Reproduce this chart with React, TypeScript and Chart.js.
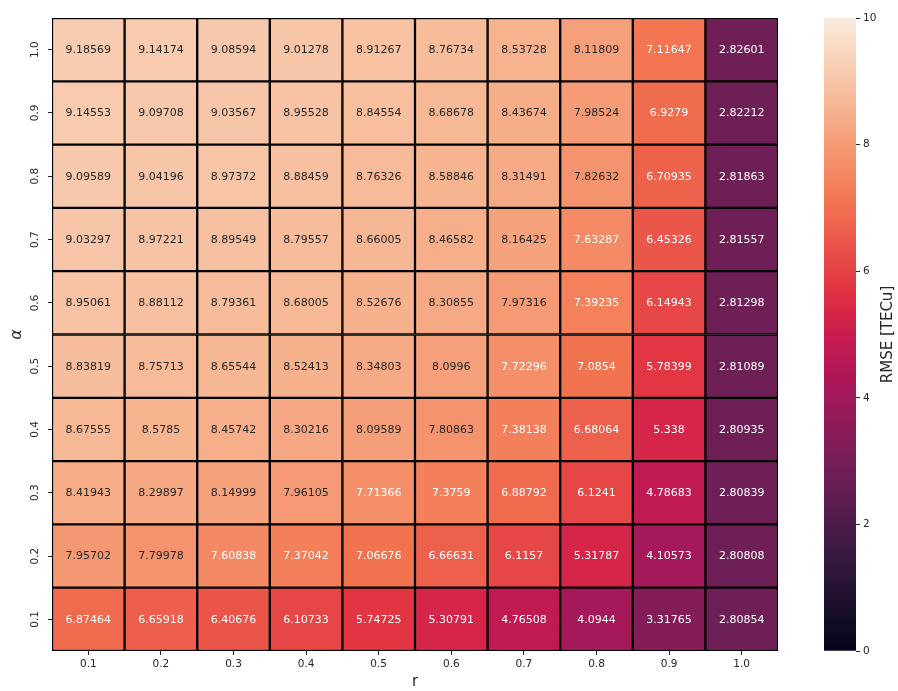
import React, { useEffect, useRef } from "react";
import { Chart, registerables } from "chart.js";

Chart.register(...registerables);

// r (x axis) categories
const rLabels = ["0.1", "0.2", "0.3", "0.4", "0.5", "0.6", "0.7", "0.8", "0.9", "1.0"];
// alpha (y axis) categories, bottom to top
const alphaLabels = ["0.1", "0.2", "0.3", "0.4", "0.5", "0.6", "0.7", "0.8", "0.9", "1.0"];

// RMSE values per alpha row, across r = 0.1 .. 1.0
const rmseAlpha01 = [6.87464, 6.65918, 6.40676, 6.10733, 5.74725, 5.30791, 4.76508, 4.0944, 3.31765, 2.80854];
const rmseAlpha02 = [7.95702, 7.79978, 7.60838, 7.37042, 7.06676, 6.66631, 6.1157, 5.31787, 4.10573, 2.80808];
const rmseAlpha03 = [8.41943, 8.29897, 8.14999, 7.96105, 7.71366, 7.3759, 6.88792, 6.1241, 4.78683, 2.80839];
const rmseAlpha04 = [8.67555, 8.5785, 8.45742, 8.30216, 8.09589, 7.80863, 7.38138, 6.68064, 5.338, 2.80935];
const rmseAlpha05 = [8.83819, 8.75713, 8.65544, 8.52413, 8.34803, 8.0996, 7.72296, 7.0854, 5.78399, 2.81089];
const rmseAlpha06 = [8.95061, 8.88112, 8.79361, 8.68005, 8.52676, 8.30855, 7.97316, 7.39235, 6.14943, 2.81298];
const rmseAlpha07 = [9.03297, 8.97221, 8.89549, 8.79557, 8.66005, 8.46582, 8.16425, 7.63287, 6.45326, 2.81557];
const rmseAlpha08 = [9.09589, 9.04196, 8.97372, 8.88459, 8.76326, 8.58846, 8.31491, 7.82632, 6.70935, 2.81863];
const rmseAlpha09 = [9.14553, 9.09708, 9.03567, 8.95528, 8.84554, 8.68678, 8.43674, 7.98524, 6.9279, 2.82212];
const rmseAlpha10 = [9.18569, 9.14174, 9.08594, 9.01278, 8.91267, 8.76734, 8.53728, 8.11809, 7.11647, 2.82601];

const rows = [
  rmseAlpha01, rmseAlpha02, rmseAlpha03, rmseAlpha04, rmseAlpha05,
  rmseAlpha06, rmseAlpha07, rmseAlpha08, rmseAlpha09, rmseAlpha10,
];

const vMin = 0;
const vMax = 10;

// approximate seaborn "rocket" colormap anchors
const rocketStops: [number, number, number, number][] = [
  [0.0, 3, 5, 26],
  [0.143, 53, 25, 62],
  [0.286, 112, 31, 87],
  [0.429, 173, 23, 89],
  [0.5, 203, 27, 79],
  [0.571, 225, 51, 66],
  [0.714, 243, 118, 81],
  [0.857, 246, 180, 143],
  [1.0, 250, 235, 221],
];

function rocketRGB(t: number): [number, number, number] {
  const x = Math.max(0, Math.min(1, t));
  for (let i = 1; i < rocketStops.length; i++) {
    const a = rocketStops[i - 1];
    const b = rocketStops[i];
    if (x <= b[0]) {
      const f = (x - a[0]) / (b[0] - a[0]);
      return [a[1] + (b[1] - a[1]) * f, a[2] + (b[2] - a[2]) * f, a[3] + (b[3] - a[3]) * f];
    }
  }
  const l = rocketStops[rocketStops.length - 1];
  return [l[1], l[2], l[3]];
}

function rgbStr(c: [number, number, number]) {
  return `rgb(${Math.round(c[0])},${Math.round(c[1])},${Math.round(c[2])})`;
}

function colorFor(v: number) {
  return rgbStr(rocketRGB((v - vMin) / (vMax - vMin)));
}

function luminance(c: [number, number, number]) {
  const lin = (u: number) => {
    const s = u / 255;
    return s <= 0.03928 ? s / 12.92 : Math.pow((s + 0.055) / 1.055, 2.4);
  };
  return 0.2126 * lin(c[0]) + 0.7152 * lin(c[1]) + 0.0722 * lin(c[2]);
}

function textColorFor(v: number) {
  const c = rocketRGB((v - vMin) / (vMax - vMin));
  return luminance(c) > 0.408 ? "#262626" : "#ffffff";
}

const FONT = "DejaVu Sans";
const TXT = "#262626";

export default function App() {
  const mainRef = useRef<HTMLCanvasElement | null>(null);
  const cbRef = useRef<HTMLCanvasElement | null>(null);

  useEffect(() => {
    if (!mainRef.current || !cbRef.current) return;

    const annotate = {
      id: "annotate",
      afterDatasetsDraw(chart: any) {
        const ctx = chart.ctx;
        ctx.save();
        ctx.font = `11px "${FONT}"`;
        ctx.textAlign = "center";
        ctx.textBaseline = "middle";
        chart.data.datasets.forEach((_: any, i: number) => {
          const meta = chart.getDatasetMeta(i);
          meta.data.forEach((bar: any, c: number) => {
            const v = rows[i][c];
            const p = bar.getProps(["x", "y", "base"], true);
            ctx.fillStyle = textColorFor(v);
            ctx.fillText(String(v), p.x, (p.y + p.base) / 2 + 0.5);
          });
        });
        ctx.restore();
      },
    };

    const main = new Chart(mainRef.current, {
      type: "bar",
      data: {
        labels: rLabels,
        datasets: rows.map((vals, i) => ({
          data: vals.map(() => [i, i + 1]),
          backgroundColor: vals.map((v) => colorFor(v)),
          borderColor: "#000000",
          borderWidth: 1.5,
          borderSkipped: false,
          barPercentage: 1,
          categoryPercentage: 1,
          grouped: false,
        })) as any,
      },
      options: {
        responsive: false,
        animation: false,
        layout: { padding: { top: 18, right: 22, left: 0, bottom: 0 } },
        plugins: { legend: { display: false }, tooltip: { enabled: false } },
        scales: {
          x: {
            type: "category",
            offset: true,
            grid: { offset: false, drawOnChartArea: false, tickLength: 4, color: TXT },
            border: { display: false },
            ticks: { color: TXT, font: { family: FONT, size: 10.5 }, padding: 3, maxRotation: 0, minRotation: 0 },
            title: { display: true, text: "r", color: TXT, font: { family: FONT, size: 15 }, padding: { top: 0, bottom: 0 } },
            afterFit: (s: any) => { s.height = 40; },
          },
          y: {
            type: "linear",
            min: 0,
            max: 10,
            afterBuildTicks: (s: any) => {
              s.ticks = alphaLabels.map((_, i) => ({ value: i + 0.5 }));
            },
            grid: { drawOnChartArea: false, tickLength: 4, color: TXT },
            border: { display: false },
            ticks: {
              color: TXT,
              font: { family: FONT, size: 10.5 },
              padding: 4,
              minRotation: 90,
              maxRotation: 90,
              crossAlign: "center",
              autoSkip: false,
              callback: (v: any) => alphaLabels[Math.round(Number(v) - 0.5)],
            },
            title: { display: true, text: "α", color: TXT, font: { family: FONT, size: 16, style: "italic" }, padding: { top: 7, bottom: 0 } },
            afterFit: (s: any) => { s.width = 52; },
          },
        },
      } as any,
      plugins: [annotate],
    });

    const cbTitle = {
      id: "cbTitle",
      afterDraw(chart: any) {
        const ctx = chart.ctx;
        const a = chart.chartArea;
        ctx.save();
        ctx.translate(88, (a.top + a.bottom) / 2);
        ctx.rotate(-Math.PI / 2);
        ctx.font = `15px "${FONT}"`;
        ctx.fillStyle = TXT;
        ctx.textAlign = "center";
        ctx.textBaseline = "middle";
        ctx.fillText("RMSE [TECu]", 0, 0);
        ctx.restore();
      },
    };

    const cb = new Chart(cbRef.current, {
      type: "bar",
      data: {
        labels: [""],
        datasets: [
          {
            data: [[vMin, vMax]] as any,
            backgroundColor: (ctx: any) => {
              const chart = ctx.chart;
              const a = chart.chartArea;
              if (!a) return "#000";
              const g = chart.ctx.createLinearGradient(0, a.bottom, 0, a.top);
              for (let k = 0; k <= 40; k++) {
                g.addColorStop(k / 40, rgbStr(rocketRGB(k / 40)));
              }
              return g;
            },
            borderWidth: 0,
            barPercentage: 1,
            categoryPercentage: 1,
          },
        ],
      },
      options: {
        responsive: false,
        animation: false,
        layout: { padding: { top: 18, left: 24, right: 0, bottom: 40 } },
        plugins: { legend: { display: false }, tooltip: { enabled: false } },
        scales: {
          x: { display: false },
          y: {
            position: "right",
            min: vMin,
            max: vMax,
            ticks: { stepSize: 2, padding: 3, color: TXT, font: { family: FONT, size: 10.5 } },
            grid: { drawOnChartArea: false, tickLength: 4, color: TXT },
            border: { display: false },
            afterFit: (s: any) => { s.width = 42; },
          },
        },
      } as any,
      plugins: [cbTitle],
    });

    return () => {
      main.destroy();
      cb.destroy();
    };
  }, []);

  return (
    <div style={{ position: "absolute", left: 0, top: 0, width: 898, height: 691, background: "#ffffff" }}>
      <canvas ref={mainRef} width={800} height={691} style={{ position: "absolute", left: 0, top: 0 }} />
      <canvas ref={cbRef} width={98} height={691} style={{ position: "absolute", left: 800, top: 0 }} />
    </div>
  );
}
